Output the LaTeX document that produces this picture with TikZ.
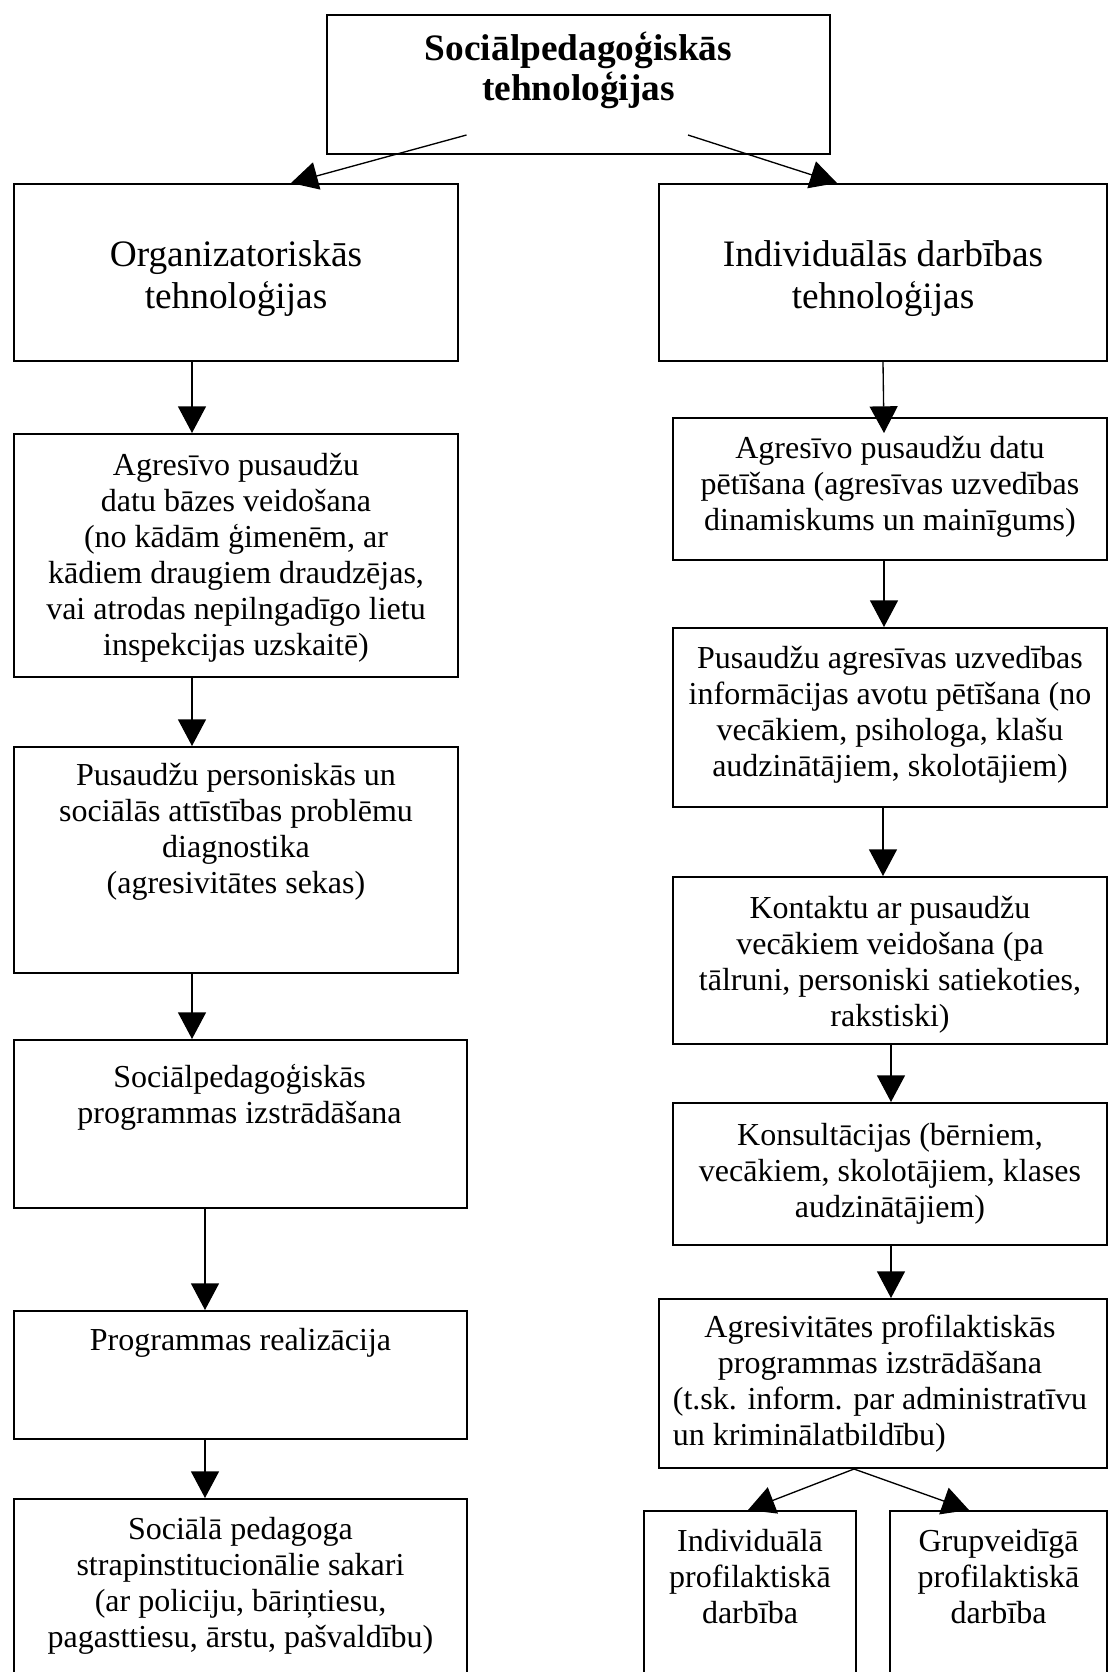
\documentclass[tikz,border=0pt]{standalone}
\usepackage{fontspec}
\setmainfont{Liberation Serif}
\usetikzlibrary{arrows.meta,calc}
\newcommand{\pxu}{0.375pt}
\newcommand{\rows}[1]{\begin{tabular}[t]{@{}c@{}}#1\end{tabular}}
\begin{document}
\begin{tikzpicture}[x=\pxu, y=-\pxu,
  box/.style={draw, line width=0.75pt, anchor=north west, inner sep=0pt},
  txt/.style={anchor=base, inner sep=0pt, font=\fontsize{12}{13.5}\selectfont},
  bigtxt/.style={txt, font=\fontsize{14}{15.75}\selectfont},
  arr/.style={line width=0.5pt, -{Triangle[length=10pt,width=10.5pt]}}]
\useasboundingbox (0,0) rectangle (1108,1672);
\clip (0,0) rectangle (1108,1672);
%
\node[box, minimum width=503*\pxu, minimum height=139*\pxu] (top) at (326,14) {};
\node[txt, font=\fontsize{14}{15}\selectfont\bfseries] (topT) at ($(top.north)+(0,46)$) {\rows{Sociālpedagoģiskās\\tehnoloģijas}};
%
\node[box, minimum width=444*\pxu, minimum height=177*\pxu] (orgA) at (13,183) {};
\node[box, minimum width=444*\pxu, minimum height=243*\pxu] (orgB) at (13,433) {};
\node[box, minimum width=444*\pxu, minimum height=226*\pxu] (orgC) at (13,746) {};
\node[box, minimum width=453*\pxu, minimum height=168*\pxu] (orgD) at (13,1039) {};
\node[box, minimum width=453*\pxu, minimum height=128*\pxu] (orgE) at (13,1310) {};
\node[box, minimum width=453*\pxu, minimum height=250*\pxu] (orgF) at (13,1498) {};
%
\node[bigtxt] (orgAT) at ($(orgA.north)+(0,83)$) {\rows{Organizatoriskās\\tehnoloģijas}};
\node[txt] (orgBT) at ($(orgB.north)+(0,42)$) {\rows{Agresīvo pusaudžu\\datu bāzes veidošana\\(no kādām ģimenēm, ar\\kādiem draugiem draudzējas,\\vai atrodas nepilngadīgo lietu\\inspekcijas uzskaitē)}};
\node[txt] (orgCT) at ($(orgC.north)+(0,39)$) {\rows{Pusaudžu personiskās un\\sociālās attīstības problēmu\\diagnostika\\(agresivitātes sekas)}};
\node[txt] (orgDT) at ($(orgD.north)+(-1,48)$) {\rows{Sociālpedagoģiskās\\programmas izstrādāšana}};
\node[txt] (orgET) at ($(orgE.north)+(0,40)$) {\rows{Programmas realizācija}};
\node[txt] (orgFT) at ($(orgF.north)+(0,41)$) {\rows{Sociālā pedagoga\\strapinstitucionālie sakari\\(ar policiju, bāriņtiesu,\\pagasttiesu, ārstu, pašvaldību)}};
%
\node[box, minimum width=448*\pxu, minimum height=177*\pxu] (indA) at (658,183) {};
\node[box, minimum width=434*\pxu, minimum height=142*\pxu] (indB) at (672,417) {};
\node[box, minimum width=434*\pxu, minimum height=179*\pxu] (indC) at (672,627) {};
\node[box, minimum width=434*\pxu, minimum height=167*\pxu] (indD) at (672,876) {};
\node[box, minimum width=434*\pxu, minimum height=142*\pxu] (indE) at (672,1102) {};
\node[box, minimum width=448*\pxu, minimum height=169*\pxu] (indF) at (658,1298) {};
\node[box, minimum width=212*\pxu, minimum height=250*\pxu] (indG) at (643,1510) {};
\node[box, minimum width=217*\pxu, minimum height=250*\pxu] (indH) at (889,1510) {};
%
\node[bigtxt] (indAT) at ($(indA.north)+(0,83)$) {\rows{Individuālās darbības\\tehnoloģijas}};
\node[txt] (indBT) at ($(indB.north)+(0,41)$) {\rows{Agresīvo pusaudžu datu\\pētīšana (agresīvas uzvedības\\dinamiskums un mainīgums)}};
\node[txt] (indCT) at ($(indC.north)+(0,41)$) {\rows{Pusaudžu agresīvas uzvedības\\informācijas avotu pētīšana (no\\vecākiem, psihologa, klašu\\audzinātājiem, skolotājiem)}};
\node[txt] (indDT) at ($(indD.north)+(0,42)$) {\rows{Kontaktu ar pusaudžu\\vecākiem veidošana (pa\\tālruni, personiski satiekoties,\\rakstiski)}};
\node[txt] (indET) at ($(indE.north)+(0,43)$) {\rows{Konsultācijas (bērniem,\\vecākiem, skolotājiem, klases\\audzinātājiem)}};
\node[txt] (indFT) at ($(indF.north)+(-3,39)$) {\rows{Agresivitātes profilaktiskās\\programmas izstrādāšana\\(t.sk. inform. par administratīvu\\\multicolumn{1}{@{}l@{}}{un kriminālatbildību)}}};
\node[txt] (indGT) at ($(indG.north)+(0,41)$) {\rows{Individuālā\\profilaktiskā\\darbība}};
\node[txt] (indHT) at ($(indH.north)+(0,41)$) {\rows{Grupveidīgā\\profilaktiskā\\darbība}};
%
\draw[arr] ($(top.south)+(-112,-20)$) -- ($(orgA.north)+(55,0)$);
\draw[arr] ($(top.south)+(109.5,-20)$) -- ($(indA.north)+(-46,0)$);
%
\draw[arr] ($(orgA.south)+(-44,0)$) -- ($(orgB.north)+(-44,0)$);
\draw[arr] ($(orgB.south)+(-44,0)$) -- ($(orgC.north)+(-44,0)$);
\draw[arr] ($(orgC.south)+(-44,0)$) -- ($(orgD.north)+(-48.5,0)$);
\draw[arr] ($(orgD.south)+(-35.5,0)$) -- ($(orgE.north)+(-35.5,0)$);
\draw[arr] ($(orgE.south)+(-35.5,0)$) -- ($(orgF.north)+(-35.5,0)$);
%
\draw[arr] (indA.south) -- ($(indB.north)+(-6,16)$);
\draw[arr] ($(indB.south)+(-6,0)$) -- ($(indC.north)+(-6,0)$);
\draw[arr] ($(indC.south)+(-7,0)$) -- ($(indD.north)+(-7,0)$);
\draw[arr] ($(indD.south)+(1,0)$) -- ($(indE.north)+(1,0)$);
\draw[arr] ($(indE.south)+(1,0)$) -- ($(indF.north)+(8,0)$);
\draw[arr] ($(indF.south)+(-29,0)$) -- ($(indG.north)+(-2,0)$);
\draw[arr] ($(indF.south)+(-29,0)$) -- ($(indH.north)+(-29.5,0)$);
\end{tikzpicture}
\end{document}
